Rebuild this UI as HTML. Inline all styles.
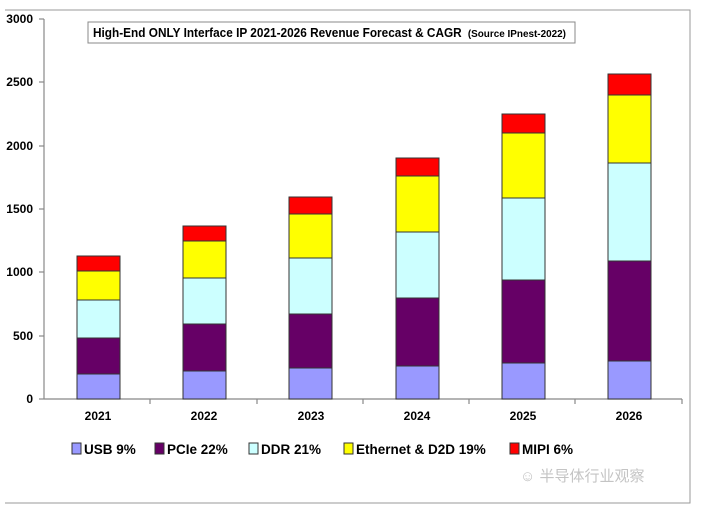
<!DOCTYPE html>
<html><head><meta charset="utf-8"><style>
body{margin:0;background:#fff;}
svg{display:block;font-family:"Liberation Sans","Noto Sans CJK SC",sans-serif;}
</style></head><body>
<svg width="720" height="509" viewBox="0 0 720 509" xmlns="http://www.w3.org/2000/svg">
<rect x="0" y="0" width="720" height="509" fill="#fff"/>
<polyline points="5,10 690,10 690,503 5,503" fill="none" stroke="#999" stroke-width="1"/>
<line x1="44" y1="19" x2="44" y2="399" stroke="#888" stroke-width="1.2"/>
<line x1="44" y1="399" x2="682" y2="399" stroke="#888" stroke-width="1.2"/>
<g stroke="#888" stroke-width="1.2">
<line x1="39" y1="399" x2="44" y2="399"/><line x1="39" y1="336" x2="44" y2="336"/>
<line x1="39" y1="272" x2="44" y2="272"/><line x1="39" y1="209" x2="44" y2="209"/>
<line x1="39" y1="146" x2="44" y2="146"/><line x1="39" y1="82" x2="44" y2="82"/>
<line x1="39" y1="19" x2="44" y2="19"/>
<line x1="150" y1="399" x2="150" y2="404"/><line x1="257" y1="399" x2="257" y2="404"/>
<line x1="363" y1="399" x2="363" y2="404"/><line x1="469" y1="399" x2="469" y2="404"/>
<line x1="575" y1="399" x2="575" y2="404"/><line x1="682" y1="399" x2="682" y2="404"/>
</g>
<g font-size="12" font-weight="bold" text-anchor="end" fill="#000">
<text x="33" y="403">0</text><text x="33" y="340">500</text><text x="33" y="276">1000</text>
<text x="33" y="213">1500</text><text x="33" y="150">2000</text><text x="33" y="86">2500</text>
<text x="33" y="23">3000</text>
</g>
<g font-size="12" font-weight="bold" text-anchor="middle">
<text x="98" y="420">2021</text><text x="204" y="420">2022</text><text x="311" y="420">2023</text>
<text x="417" y="420">2024</text><text x="523" y="420">2025</text><text x="629" y="420">2026</text>
</g>
<g stroke="#333" stroke-width="1">
<rect x="77" y="374" width="43" height="25" fill="#9999ff"/>
<rect x="77" y="338" width="43" height="36" fill="#660066"/>
<rect x="77" y="300" width="43" height="38" fill="#ccffff"/>
<rect x="77" y="271" width="43" height="29" fill="#ffff00"/>
<rect x="77" y="256" width="43" height="15" fill="#ff0000"/>
<rect x="183" y="371" width="43" height="28" fill="#9999ff"/>
<rect x="183" y="324" width="43" height="47" fill="#660066"/>
<rect x="183" y="278" width="43" height="46" fill="#ccffff"/>
<rect x="183" y="241" width="43" height="37" fill="#ffff00"/>
<rect x="183" y="226" width="43" height="15" fill="#ff0000"/>
<rect x="289" y="368" width="43" height="31" fill="#9999ff"/>
<rect x="289" y="314" width="43" height="54" fill="#660066"/>
<rect x="289" y="258" width="43" height="56" fill="#ccffff"/>
<rect x="289" y="214" width="43" height="44" fill="#ffff00"/>
<rect x="289" y="197" width="43" height="17" fill="#ff0000"/>
<rect x="396" y="366" width="43" height="33" fill="#9999ff"/>
<rect x="396" y="298" width="43" height="68" fill="#660066"/>
<rect x="396" y="232" width="43" height="66" fill="#ccffff"/>
<rect x="396" y="176" width="43" height="56" fill="#ffff00"/>
<rect x="396" y="158" width="43" height="18" fill="#ff0000"/>
<rect x="502" y="363" width="43" height="36" fill="#9999ff"/>
<rect x="502" y="280" width="43" height="83" fill="#660066"/>
<rect x="502" y="198" width="43" height="82" fill="#ccffff"/>
<rect x="502" y="133" width="43" height="65" fill="#ffff00"/>
<rect x="502" y="114" width="43" height="19" fill="#ff0000"/>
<rect x="608" y="361" width="43" height="38" fill="#9999ff"/>
<rect x="608" y="261" width="43" height="100" fill="#660066"/>
<rect x="608" y="163" width="43" height="98" fill="#ccffff"/>
<rect x="608" y="95" width="43" height="68" fill="#ffff00"/>
<rect x="608" y="74" width="43" height="21" fill="#ff0000"/>
</g>
<rect x="88" y="22" width="487" height="21" fill="#fff" stroke="#888" stroke-width="1"/>
<text x="93" y="37" font-size="12.5" font-weight="bold" textLength="473" lengthAdjust="spacingAndGlyphs">High-End ONLY Interface IP 2021-2026 Revenue Forecast &amp; CAGR <tspan font-size="10.5" dx="3">(Source IPnest-2022)</tspan></text>
<g stroke="#333" stroke-width="1">
<rect x="72" y="443" width="9" height="11" fill="#9999ff"/>
<rect x="155" y="443" width="9" height="11" fill="#660066"/>
<rect x="249" y="443" width="9" height="11" fill="#ccffff"/>
<rect x="344" y="443" width="9" height="11" fill="#ffff00"/>
<rect x="510" y="443" width="9" height="11" fill="#ff0000"/>
</g>
<g font-size="13.5" font-weight="bold">
<text x="84" y="454">USB 9%</text>
<text x="167" y="454">PCIe 22%</text>
<text x="261" y="454">DDR 21%</text>
<text x="356" y="454">Ethernet &amp; D2D 19%</text>
<text x="522" y="454">MIPI 6%</text>
</g>
<text x="520" y="481" font-size="15" fill="#c4c4c4">☺ 半导体行业观察</text>
</svg>
</body></html>
